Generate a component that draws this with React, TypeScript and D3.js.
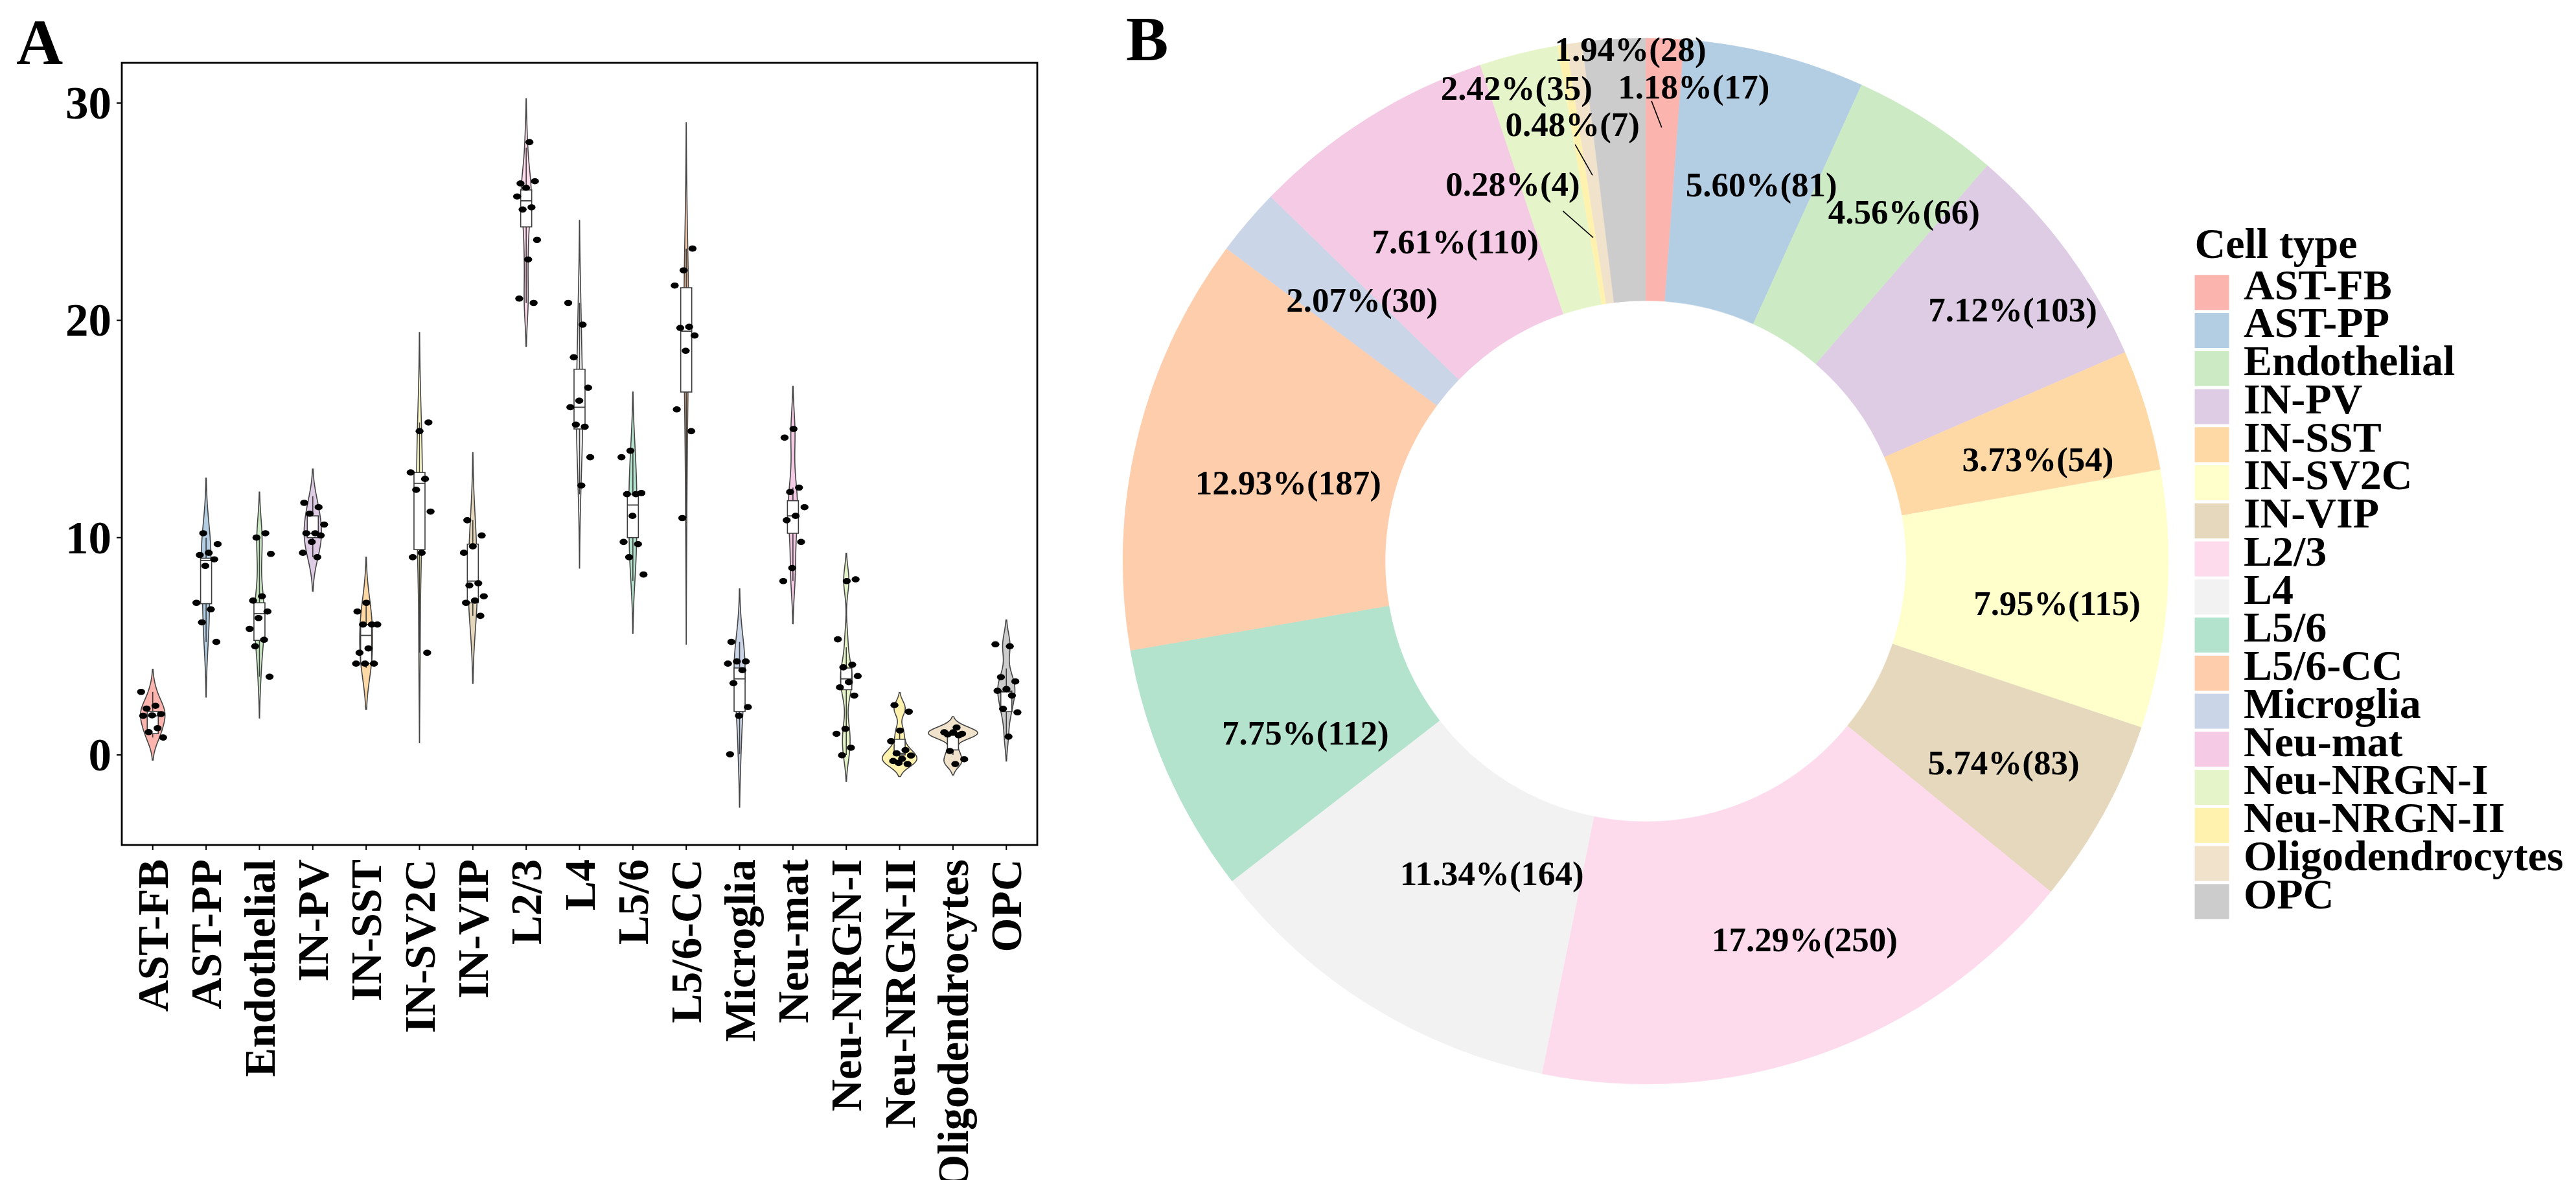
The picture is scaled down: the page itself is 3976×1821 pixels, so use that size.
import React from 'react';
import * as d3 from 'd3';

// ---- data ----
const cellTypes = [
  'AST-FB', 'AST-PP', 'Endothelial', 'IN-PV', 'IN-SST', 'IN-SV2C', 'IN-VIP', 'L2/3', 'L4',
  'L5/6', 'L5/6-CC', 'Microglia', 'Neu-mat', 'Neu-NRGN-I', 'Neu-NRGN-II', 'Oligodendrocytes', 'OPC',
];
const cellColors = [
  '#fbb4ae', '#b3cde3', '#ccebc5', '#decbe4', '#fed9a6', '#ffffcc', '#e5d8bd', '#fddaec', '#f2f2f2',
  '#b3e2cd', '#fdcdac', '#cbd5e8', '#f4cae4', '#e6f5c9', '#fff2ae', '#f1e2cc', '#cccccc',
];
const cellCounts = [17, 81, 66, 103, 54, 115, 83, 250, 164, 112, 187, 30, 110, 35, 4, 7, 28];

// per-sample values shown as dots in panel A
const sampleValues: number[][] = [
  [2.9, 2.26, 2.13, 1.88, 1.82, 1.8, 1.23, 1.05, 0.8],
  [10.2, 9.7, 9.3, 9.2, 9.0, 8.7, 7.0, 6.7, 6.1, 5.2],
  [10.2, 10.0, 9.25, 7.3, 7.1, 6.6, 6.3, 5.8, 5.3, 5.0, 3.6],
  [11.6, 11.4, 11.1, 10.6, 10.2, 10.2, 10.1, 9.8, 9.3, 9.1],
  [7.0, 6.6, 6.0, 6.0, 6.0, 4.9, 4.7, 4.2, 4.2, 4.2],
  [15.3, 14.9, 13.0, 12.7, 12.2, 11.2, 9.3, 9.1, 4.7],
  [10.8, 10.1, 9.6, 9.3, 7.9, 7.8, 7.3, 7.1, 7.0, 6.4],
  [28.2, 26.3, 26.4, 26.1, 25.7, 25.2, 25.1, 23.7, 22.8, 21.0, 20.8],
  [20.8, 19.8, 18.3, 16.9, 16.3, 16.0, 15.1, 15.2, 13.7, 12.4],
  [14.0, 13.7, 12.0, 12.0, 12.05, 11.0, 9.8, 9.7, 9.1, 8.3],
  [23.3, 22.3, 21.6, 19.7, 19.65, 19.3, 18.6, 15.9, 14.9, 10.9],
  [5.2, 4.3, 4.3, 4.2, 3.9, 3.3, 2.2, 1.8, 0.03],
  [15.0, 14.6, 12.3, 12.1, 11.4, 11.0, 10.8, 9.8, 8.6, 8.0],
  [8.08, 8.0, 5.32, 4.15, 4.03, 3.63, 3.35, 3.11, 2.73, 1.2, 0.97, 0.33, -0.02],
  [2.29, 1.99, 1.12, 0.63, 0.22, 0.07, -0.03, -0.18, -0.28, -0.42, -0.37],
  [1.26, 0.94, 0.97, 1.04, 1.04, 0.9, 0.18, -0.2, -0.42],
  [5.09, 5.0, 3.58, 3.38, 3.03, 2.95, 2.73, 2.12, 1.96, 0.84],
];
const kdeBandwidth = [0.52, 1.27, 0.95, 0.78, 1.05, 2.07, 1.55, 1.0, 1.9, 1.35, 2.9, 1.22, 0.98, 0.6, 0.29, 0.25, 0.56];

// box plot stats
const boxQ1 = [0.98, 6.96, 5.27, 10.0, 4.2, 9.45, 7.0, 24.3, 15.0, 10.0, 16.7, 2.0, 10.2, 3.0, 0.0, 0.23, 1.99];
const boxMedian = [1.8, 8.95, 6.5, 10.2, 5.5, 12.5, 8.0, 25.5, 16.0, 11.5, 19.5, 3.5, 11.0, 3.5, 0.07, 0.9, 2.9];
const boxQ3 = [2.0, 9.05, 7.0, 11.0, 6.0, 13.0, 9.7, 26.0, 17.75, 12.0, 21.5, 4.0, 11.7, 4.0, 0.72, 0.95, 2.94];
const whiskerLow = [0.8, 5.2, 3.6, 9.1, 4.0, 4.7, 6.4, 20.8, 12.0, 8.0, 10.9, 0.03, 8.0, 0.0, -0.42, 0.0, 0.84];
const whiskerHigh = [2.9, 10.0, 10.0, 11.9, 7.0, 15.3, 10.8, 27.95, 20.8, 14.0, 23.3, 5.2, 12.3, 4.95, 0.98, 1.04, 3.98];

const yTicks = [0, 10, 20, 30];

// donut label placement: [radius as fraction of outer radius, angle in degrees]
const labelPolar: [number, number][] = [
  [0.912, 5.8], [0.753, 17.1], [0.831, 36.5], [0.851, 55.6], [0.775, 75.5], [0.791, 95.8],
  [0.786, 119.4], [0.785, 157.2], [0.666, 206.2], [0.729, 243.2], [0.70, 282.4], [0.737, 312.6],
  [0.711, 329.2], [0.938, 344.75], [0.765, 340.6], [0.847, 350.5], [0.979, 358.3],
];
// leader lines for crowded labels: [fromR, fromAngle, toR] (to = slice mid angle)
const leaderLines: ([number, number, number] | null)[] = [
  [0.88, 0.73, 0.83], null, null, null, null, null, null, null, null, null, null, null, null,
  null, [0.688, 346.7, 0.627], [0.808, 350.4, 0.745], null,
];

const FONT = '"Liberation Serif", "Times New Roman", serif';

const gauss = (z: number) => Math.exp(-0.5 * z * z) / Math.sqrt(2 * Math.PI);

function ViolinPanel() {
  const frame = { left: 188, right: 1601, top: 97, bottom: 1304 };
  const x = d3.scalePoint<string>().domain(cellTypes).range([frame.left, frame.right]).padding(0.58);
  const y = d3.scaleLinear().domain([0, 30]).range([1165, 159]);

  const densities = sampleValues.map((vals, g) => {
    const bw = kdeBandwidth[g];
    const lo = (d3.min(vals) as number) - 2 * bw;
    const hi = (d3.max(vals) as number) + 2 * bw;
    return d3.range(0, 121).map(i => {
      const v = lo + ((hi - lo) * i) / 120;
      const dens = d3.sum(vals, xv => gauss((v - xv) / bw)) / (vals.length * bw);
      return [v, dens] as [number, number];
    });
  });
  const maxDens = d3.max(densities, ds => d3.max(ds, d => d[1])) as number;
  const wScale = d3.scaleLinear().domain([0, maxDens]).range([0, 38]);
  const boxHalf = 8.5;
  const edge = '#3d3d3d';

  return (
    <g>
      <text x={25} y={99} fontSize={100} fontWeight="bold" fontFamily={FONT}>A</text>
      {cellTypes.map((ct, g) => {
        const cx = x(ct) as number;
        const area = d3.area<[number, number]>()
          .y(d => y(d[0]))
          .x0(d => cx - wScale(d[1]))
          .x1(d => cx + wScale(d[1]));
        return (
          <g key={ct}>
            <path d={area(densities[g]) || ''} fill={cellColors[g]} stroke="#444" strokeWidth={1.6} />
            <line x1={cx} x2={cx} y1={y(whiskerLow[g])} y2={y(boxQ1[g])} stroke={edge} strokeWidth={1.6} />
            <line x1={cx} x2={cx} y1={y(boxQ3[g])} y2={y(whiskerHigh[g])} stroke={edge} strokeWidth={1.6} />
            <rect x={cx - boxHalf} width={boxHalf * 2} y={y(boxQ3[g])} height={y(boxQ1[g]) - y(boxQ3[g])}
              fill="white" stroke={edge} strokeWidth={1.6} />
            <line x1={cx - boxHalf} x2={cx + boxHalf} y1={y(boxMedian[g])} y2={y(boxMedian[g])} stroke={edge} strokeWidth={1.8} />
            {sampleValues[g].map((v, i) => {
              const frac = ((i * 0.6180339 + g * 0.377) % 1) - 0.5;
              return <ellipse key={i} cx={cx + frac * 36} cy={y(v)} rx={6.2} ry={4.8} fill="black" />;
            })}
          </g>
        );
      })}
      <rect x={frame.left} y={frame.top} width={frame.right - frame.left} height={frame.bottom - frame.top}
        fill="none" stroke="black" strokeWidth={2.8} />
      {yTicks.map(t => (
        <g key={t}>
          <line x1={frame.left - 8} x2={frame.left} y1={y(t)} y2={y(t)} stroke="black" strokeWidth={2} />
          <text x={172} y={y(t)} dy="0.34em" textAnchor="end" fontSize={71} fontWeight="bold" fontFamily={FONT}>{t}</text>
        </g>
      ))}
      {cellTypes.map(ct => {
        const cx = x(ct) as number;
        return (
          <g key={ct}>
            <line x1={cx} x2={cx} y1={frame.bottom} y2={frame.bottom + 8} stroke="black" strokeWidth={2} />
            <text transform={`translate(${cx},1326) rotate(-90)`} dy="0.34em" textAnchor="end"
              fontSize={68} fontWeight="bold" fontFamily={FONT}>{ct}</text>
          </g>
        );
      })}
    </g>
  );
}

function DonutPanel() {
  const cx = 2540, cy = 866, R = 807, r0 = 402;
  const total = d3.sum(cellCounts);
  const pie = d3.pie<number>().sort(null).value(d => d)(cellCounts);
  const arc = d3.arc<d3.PieArcDatum<number>>().innerRadius(r0).outerRadius(R);
  const polar = (rf: number, deg: number): [number, number] => {
    const a = (deg * Math.PI) / 180;
    return [cx + rf * R * Math.sin(a), cy - rf * R * Math.cos(a)];
  };
  return (
    <g>
      <text x={1738} y={93} fontSize={98} fontWeight="bold" fontFamily={FONT}>B</text>
      <g transform={`translate(${cx},${cy})`}>
        {pie.map((p, i) => (
          <path key={cellTypes[i]} d={arc(p) || ''} fill={cellColors[i]} stroke={cellColors[i]} strokeWidth={0.5} />
        ))}
      </g>
      {pie.map((p, i) => {
        const ll = leaderLines[i];
        if (!ll) return null;
        const mid = (((p.startAngle + p.endAngle) / 2) * 180) / Math.PI;
        const [x1, y1] = polar(ll[0], ll[1]);
        const [x2, y2] = polar(ll[2], mid);
        return <line key={'l' + i} x1={x1} y1={y1} x2={x2} y2={y2} stroke="black" strokeWidth={1.6} />;
      })}
      {cellCounts.map((c, i) => {
        const [lx, ly] = polar(labelPolar[i][0], labelPolar[i][1]);
        const pct = ((c / total) * 100).toFixed(2);
        return (
          <text key={'t' + i} x={lx} y={ly} dy="0.34em" textAnchor="middle" fontSize={53}
            fontWeight="bold" fontFamily={FONT}>{`${pct}%(${c})`}</text>
        );
      })}
    </g>
  );
}

function Legend() {
  const left = 3387.5, top = 424.3, pitch = 58.75;
  return (
    <g>
      <text x={left} y={398} fontSize={66} fontWeight="bold" fontFamily={FONT}>Cell type</text>
      {cellTypes.map((ct, i) => (
        <g key={ct}>
          <rect x={left} y={top + i * pitch} width={53} height={54} fill={cellColors[i]} />
          <text x={3463} y={top + i * pitch + 37.3} fontSize={66} fontWeight="bold" fontFamily={FONT}>{ct}</text>
        </g>
      ))}
    </g>
  );
}

export default function App() {
  return (
    <div style={{ position: 'absolute', left: 0, top: 0 }}>
      <svg width={3976} height={1821} viewBox="0 0 3976 1821" style={{ display: 'block', background: 'white' }}>
        <ViolinPanel />
        <DonutPanel />
        <Legend />
      </svg>
    </div>
  );
}
